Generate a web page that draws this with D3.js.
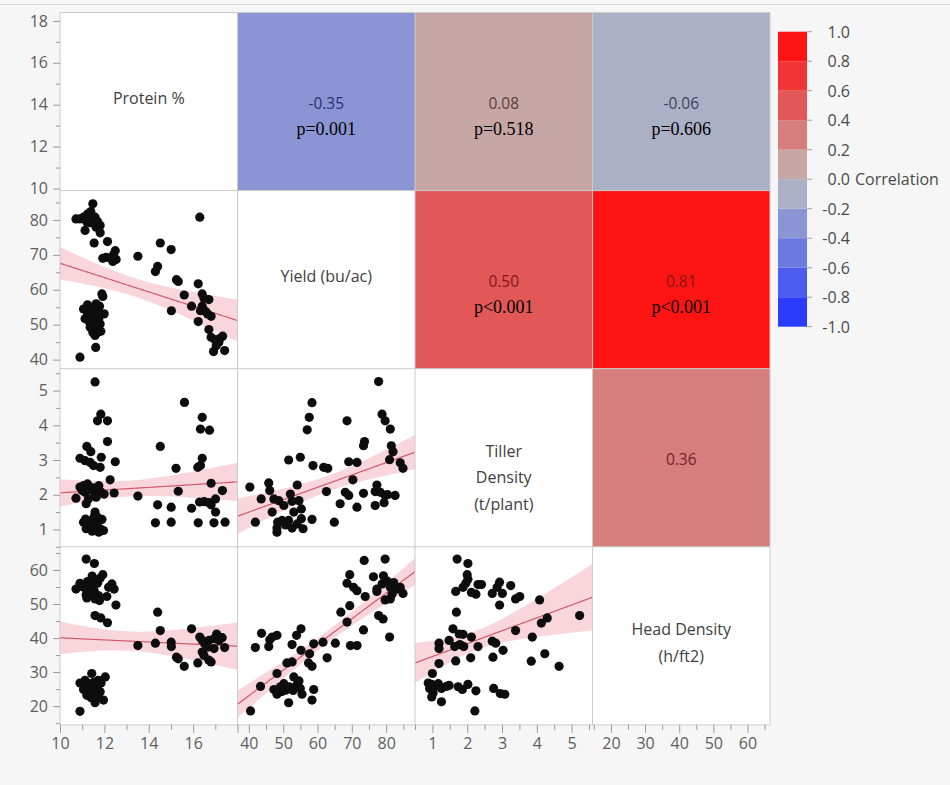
<!DOCTYPE html>
<html>
<head>
<meta charset="utf-8">
<script src="https://cdn.jsdelivr.net/npm/d3@7/dist/d3.min.js"></script>
<style>
  body { margin: 0; background: #f6f6f6; }
  svg { display: block; font-family: "Open Sans", "Noto Sans", sans-serif; }
</style>
</head>
<body>
<svg id="chart" width="950" height="785"></svg>
<script>
// ---- variables of the scatterplot matrix ----
const labelLines = [["Protein %"], ["Yield (bu/ac)"], ["Tiller", "Density", "(t/plant)"], ["Head Density", "(h/ft2)"]];
const xDomains = [[10, 18], [36.7, 88.4], [0.5, 5.6], [14.6, 66.6]];
const yDomains = [[9.9, 18.4], [37.4, 88.4], [0.5, 5.63], [14.5, 66.8]];
const minorTicks = [[11, 13, 15, 17], [45, 55, 65, 75, 85], [0.5, 1.5, 2.5, 3.5, 4.5, 5.5], [15, 25, 35, 45, 55, 65]];
const yTickLabels = [[10, 12, 14, 16, 18], [40, 50, 60, 70, 80], [1, 2, 3, 4, 5], [20, 30, 40, 50, 60]];
const xTickLabels = [[10, 12, 14, 16, 18], [40, 50, 60, 70, 80], [1, 2, 3, 4, 5], [20, 30, 40, 50, 60]];

// ---- pairwise correlations (upper triangle) ----
const corrPairs = [[0, 1], [0, 2], [0, 3], [1, 2], [1, 3], [2, 3]];
const corrR = [-0.35, 0.08, -0.06, 0.50, 0.81, 0.36];
const corrP = ["p=0.001", "p=0.518", "p=0.606", "p<0.001", "p<0.001", ""];

// ---- colour bands of the correlation legend, from -1 to 1 ----
const bandColors = ["#2b3cff", "#4c5cf0", "#6c79e1", "#8c95d4", "#abb0c6",
                    "#c7a6a6", "#d67e7e", "#e25858", "#ef3535", "#ff1414"];
const legendTicks = [1.0, 0.8, 0.6, 0.4, 0.2, 0.0, -0.2, -0.4, -0.6, -0.8, -1.0];

// ---- observations for each lower-triangle panel: [x, y] ----
const proteinYield = [
  [10.72,80.3],[10.90,80.3],[11.06,80.8],[11.24,81.7],[11.39,82.4],[11.48,84.6],[11.58,80.8],[11.70,79.5],
  [11.81,78.4],[11.21,79.4],[11.36,79.2],[11.13,77.0],[11.63,77.9],[11.81,76.3],[11.54,73.4],[12.14,73.8],
  [12.49,71.2],[12.41,70.0],[12.29,69.0],[12.08,69.3],[11.93,69.0],[12.38,68.1],[12.53,68.7],[11.30,80.9],
  [11.89,58.8],[11.93,58.1],[11.06,54.5],[11.24,55.7],[11.43,55.0],[11.63,56.0],[11.78,55.3],[11.99,53.1],
  [11.24,53.1],[11.39,52.1],[11.55,53.1],[11.73,53.8],[11.13,51.7],[11.33,50.7],[11.54,51.2],[11.75,51.7],
  [11.36,49.3],[11.58,49.7],[11.81,50.2],[11.48,47.8],[11.69,47.8],[11.84,48.1],[11.58,46.9],[11.61,43.5],
  [10.90,40.7],
  [13.51,69.6],[14.52,73.4],[15.01,71.5],[14.40,66.7],[14.30,65.2],[15.25,62.9],[15.33,62.4],[15.02,54.0],
  [15.60,58.5],[15.93,55.3],[16.30,80.8],[16.23,61.7],[16.41,58.8],[16.49,57.6],[16.71,57.2],[16.41,55.3],
  [16.33,54.0],[16.56,53.8],[16.65,53.1],[16.81,52.4],[16.23,50.9],[16.71,48.6],[16.81,46.4],[16.98,45.7],
  [17.21,46.1],[17.33,46.7],[16.92,42.3],[17.04,44.0],[17.42,42.6],[17.16,45.0]
];
const proteinTiller = [
  [11.58,5.25],[11.84,4.32],[11.69,4.13],[12.14,4.13],[12.14,3.53],[11.21,3.39],[11.39,3.24],[10.90,3.05],
  [11.13,2.98],[11.36,2.93],[11.51,2.84],[11.86,3.08],[11.81,2.79],[12.49,2.95],[12.26,2.43],[10.72,1.90],
  [10.90,2.22],[11.06,2.26],[11.24,2.31],[11.39,2.15],[11.13,2.07],[11.54,2.07],[11.75,2.26],[11.81,2.09],
  [11.63,1.93],[11.99,2.02],[12.44,2.05],[11.28,1.88],[11.18,1.74],[11.58,1.50],[11.69,1.35],[11.06,1.21],
  [11.24,1.23],[11.43,1.26],[11.63,1.16],[11.89,1.29],[11.18,1.02],[11.39,1.04],[11.58,1.00],[11.81,1.02],
  [11.96,0.97],[11.75,0.92],[11.00,2.12],[11.50,2.20],[11.30,1.10],[11.50,1.12],[11.70,1.08],[11.45,0.95],
  [11.15,1.30],[11.55,1.38],
  [13.51,1.96],[14.52,3.39],[15.61,4.66],[16.41,4.23],[16.33,3.89],[16.74,3.86],[16.41,3.05],[16.33,2.84],
  [16.21,2.79],[15.23,2.76],[15.33,2.10],[16.81,2.33],[14.40,1.71],[15.01,1.64],[15.93,1.61],[16.29,1.79],
  [16.50,1.80],[16.71,1.77],[16.81,1.71],[17.01,1.88],[17.01,1.50],[17.32,2.12],[14.30,1.19],[15.01,1.21],
  [16.23,1.19],[16.94,1.19],[17.44,1.21]
];
const proteinHead = [
  [11.18,63.2],[11.55,61.9],[10.72,54.4],[10.90,56.1],[11.06,54.9],[11.18,52.7],[11.24,56.6],[11.36,55.1],
  [11.45,58.2],[11.55,57.0],[11.69,56.1],[11.81,57.6],[11.93,58.6],[11.33,53.4],[11.54,53.9],[11.73,52.5],
  [11.78,51.0],[11.58,51.5],[11.21,51.8],[12.11,52.2],[12.34,55.9],[12.44,54.4],[12.52,49.7],[12.19,54.9],
  [11.58,46.6],[11.84,45.9],[12.14,44.5],
  [11.43,29.6],[10.90,26.8],[11.13,27.6],[11.33,26.6],[11.54,27.1],[11.73,27.6],[12.04,28.6],[11.06,24.9],
  [11.24,24.2],[11.43,25.2],[11.66,25.7],[11.81,24.2],[11.21,23.2],[11.51,23.7],[11.73,22.7],[11.58,21.0],
  [11.96,21.8],[10.90,18.5],[11.30,25.5],[11.45,24.0],[11.60,26.0],[11.70,24.8],[11.40,22.5],[11.85,26.8],
  [11.20,25.9],[11.62,23.0],
  [13.51,37.8],[14.40,47.6],[14.52,42.2],[14.30,38.5],[15.01,38.8],[15.02,37.5],[15.25,34.4],[15.33,33.9],
  [15.60,31.7],[15.93,42.7],[16.21,32.7],[16.30,40.3],[16.41,39.3],[16.52,38.3],[16.41,35.9],[16.49,34.9],
  [16.71,33.5],[16.81,33.0],[16.71,39.3],[16.94,39.8],[17.06,41.2],[17.16,39.3],[17.31,40.1],[17.42,37.2],
  [16.94,36.9],[16.64,37.3]
];
const yieldTiller = [
  [77.8,5.26],[58.4,4.65],[57.6,4.23],[57.0,3.87],[68.6,4.13],[78.8,4.32],[79.7,4.13],[81.2,3.89],
  [73.7,3.53],[73.4,3.41],[81.5,3.41],[82.0,3.24],[81.0,3.01],[84.1,2.92],[84.9,2.76],[51.6,3.00],
  [55.0,3.08],[58.7,2.84],[61.8,2.79],[63.0,2.76],[69.1,2.95],[71.5,2.93],[70.3,2.43],[62.6,2.09],
  [68.1,2.07],[69.1,1.98],[73.4,2.04],[76.8,2.09],[77.3,2.28],[78.3,2.07],[79.7,1.98],[82.6,1.98],
  [79.4,1.77],[76.8,1.69],[71.5,1.64],[66.6,1.74],[64.9,1.21],[40.3,2.22],[43.6,1.88],[41.9,1.21],
  [45.8,2.34],[46.1,2.12],[47.3,1.88],[48.7,1.83],[46.8,1.50],[50.2,1.69],[52.1,2.02],[52.6,1.81],
  [54.1,2.28],[54.6,1.83],[55.3,1.59],[48.2,1.04],[48.4,1.21],[49.7,1.26],[50.7,1.13],[51.6,1.26],
  [52.6,1.04],[54.1,1.16],[55.3,1.31],[55.8,1.02],[58.4,1.29],[53.1,1.50],[48.2,0.92],[80.4,2.00]
];
const yieldHead = [
  [40.5,18.6],[43.4,25.8],[41.9,37.2],[43.7,41.4],[46.1,39.5],[46.8,40.3],[48.2,40.8],[45.8,37.5],
  [47.3,24.9],[48.2,29.6],[48.2,23.5],[49.2,25.7],[50.2,26.6],[50.7,24.7],[51.6,21.0],[51.8,25.7],
  [51.1,32.7],[52.6,33.0],[53.1,28.6],[54.1,26.4],[55.0,25.2],[55.5,23.5],[58.4,21.8],[58.9,24.9],
  [52.6,38.1],[53.9,40.8],[55.2,42.7],[55.2,36.4],[57.7,35.4],[58.4,31.7],[57.4,32.7],[58.9,38.3],
  [61.6,38.8],[62.8,34.2],[65.2,38.5],[66.8,47.6],[68.6,44.7],[69.4,49.5],[68.6,56.1],[69.4,58.6],
  [70.5,54.9],[71.5,53.9],[69.6,37.8],[71.5,37.8],[73.4,42.4],[73.9,52.2],[73.6,62.8],[76.3,58.0],
  [77.3,53.7],[77.8,46.6],[79.1,45.6],[79.2,58.3],[79.7,63.2],[78.8,55.9],[80.2,56.8],[81.2,54.9],
  [82.2,56.3],[83.1,54.4],[84.1,54.9],[84.9,53.1],[79.7,51.2],[81.2,51.5],[81.0,40.3],[81.7,52.9],
  [77.3,54.4],[49.6,24.3],[52.9,24.6],[54.6,27.4]
];
const tillerHead = [
  [1.71,63.2],[2.02,61.9],[2.00,58.6],[2.02,57.3],[1.96,56.1],[1.88,54.9],[1.67,53.7],[2.12,53.4],
  [2.25,52.9],[2.31,55.7],[2.41,55.7],[2.72,53.1],[2.86,54.9],[2.93,56.4],[3.01,53.1],[3.25,55.4],
  [3.39,51.5],[3.51,52.2],[2.93,49.7],[4.08,51.2],[1.69,47.6],[1.59,42.7],[1.77,41.2],[1.88,41.1],
  [1.48,39.3],[1.64,37.5],[1.79,38.1],[1.90,37.5],[2.12,40.3],[2.31,37.5],[1.19,38.5],[1.19,36.9],
  [1.19,32.5],[1.67,33.3],[2.10,34.2],[2.72,39.1],[2.82,38.5],[2.74,34.4],[3.03,36.4],[3.39,42.2],
  [3.87,40.3],[4.13,44.4],[4.30,45.9],[3.84,33.2],[4.23,35.4],[4.64,31.7],[5.23,46.6],
  [1.00,29.6],[0.88,26.8],[0.98,26.4],[1.07,25.7],[0.92,25.2],[1.02,23.9],[1.17,26.6],[1.26,25.2],
  [1.40,25.8],[1.48,26.1],[0.98,22.7],[1.26,21.3],[1.74,25.7],[1.86,24.9],[2.02,26.4],[2.25,24.5],
  [2.22,18.6],[2.76,25.2],[2.95,23.7],[3.08,23.5]
];
const panels = [
  { row: 1, col: 0, points: proteinYield },
  { row: 2, col: 0, points: proteinTiller },
  { row: 3, col: 0, points: proteinHead },
  { row: 2, col: 1, points: yieldTiller },
  { row: 3, col: 1, points: yieldHead },
  { row: 3, col: 2, points: tillerHead }
];

// ---- layout ----
const svg = d3.select("#chart");
const gridLeft = 60, gridTop = 12.5, cellW = 177.5, cellH = 178.1;
const cellX = i => gridLeft + i * cellW;
const cellY = j => gridTop + j * cellH;
const nVar = labelLines.length;

const xScale = xDomains.map((d, i) => d3.scaleLinear().domain(d).range([cellX(i), cellX(i) + cellW]));
const yScale = yDomains.map((d, j) => d3.scaleLinear().domain(d).range([cellY(j) + cellH, cellY(j)]));
const corrColor = d3.scaleQuantize().domain([-1, 1]).range(bandColors);

// deep, muted shade of a cell colour, used for the coefficient written on it
function deepShade(c) {
  const h = d3.hsl(c);
  h.l = 0.3;
  h.s = Math.min(0.7, h.s);
  return h.formatHex();
}

// faint rule along the top of the window
svg.append("line").attr("x1", 0).attr("x2", 950).attr("y1", 4.5).attr("y2", 4.5)
  .attr("stroke", "#d9d9d9").attr("stroke-width", 1);

const defs = svg.append("defs");
for (let j = 0; j < nVar; j++) {
  for (let i = 0; i < nVar; i++) {
    defs.append("clipPath").attr("id", `clip-${j}-${i}`)
      .append("rect").attr("x", cellX(i)).attr("y", cellY(j)).attr("width", cellW).attr("height", cellH);
  }
}

// cell backgrounds
const cells = svg.append("g");
for (let j = 0; j < nVar; j++) {
  for (let i = 0; i < nVar; i++) {
    cells.append("rect").attr("x", cellX(i)).attr("y", cellY(j))
      .attr("width", cellW).attr("height", cellH).attr("fill", "#ffffff");
  }
}

// correlation cells
corrPairs.forEach(([r, c], k) => {
  const fill = corrColor(corrR[k]);
  const cx = cellX(c) + cellW / 2, cy = cellY(r) + cellH / 2;
  cells.append("rect").attr("x", cellX(c)).attr("y", cellY(r))
    .attr("width", cellW).attr("height", cellH).attr("fill", fill);
  cells.append("text").attr("x", cx).attr("y", cy + 1)
    .attr("text-anchor", "middle").attr("dominant-baseline", "central")
    .attr("font-size", 15.5).attr("fill", deepShade(fill))
    .text(d3.format(".2f")(corrR[k]).replace("−", "-"));
  if (corrP[k]) {
    cells.append("text").attr("x", cx).attr("y", cy + 27)
      .attr("text-anchor", "middle").attr("dominant-baseline", "central")
      .attr("font-family", "'Liberation Serif', 'Times New Roman', serif")
      .attr("font-size", 18).attr("fill", "#000")
      .text(corrP[k]);
  }
});

// variable names on the diagonal
labelLines.forEach((lines, i) => {
  const cx = cellX(i) + cellW / 2, cy = cellY(i) + cellH / 2;
  const y0 = lines.length === 1 ? cy - 4 : cy - 7;
  lines.forEach((t, k) => {
    cells.append("text").attr("x", cx).attr("y", y0 + k * 26.7)
      .attr("text-anchor", "middle").attr("dominant-baseline", "central")
      .attr("font-size", 16).attr("fill", "#404040").text(t);
  });
});

// scatter panels with least-squares fit and 95% confidence band for the mean
panels.forEach(p => {
  const xs = xScale[p.col], ys = yScale[p.row];
  const g = svg.append("g").attr("clip-path", `url(#clip-${p.row}-${p.col})`);
  const pts = p.points, n = pts.length;
  const mx = d3.mean(pts, d => d[0]), my = d3.mean(pts, d => d[1]);
  const sxx = d3.sum(pts, d => (d[0] - mx) ** 2);
  const sxy = d3.sum(pts, d => (d[0] - mx) * (d[1] - my));
  const b = sxy / sxx, a = my - b * mx;
  const s2 = d3.sum(pts, d => (d[1] - a - b * d[0]) ** 2) / (n - 2);
  const t = 1.99;
  const dom = xs.domain();
  const steps = d3.range(0, 101).map(k => dom[0] + (dom[1] - dom[0]) * k / 100);
  const band = steps.map(x => {
    const fit = a + b * x;
    const se = Math.sqrt(s2 * (1 / n + (x - mx) ** 2 / sxx));
    return { x, lo: fit - t * se, hi: fit + t * se, fit };
  });
  g.append("path").datum(band)
    .attr("d", d3.area().x(d => xs(d.x)).y0(d => ys(d.lo)).y1(d => ys(d.hi)))
    .attr("fill", "rgba(232,120,140,0.30)");
  g.append("path").datum(band)
    .attr("d", d3.line().x(d => xs(d.x)).y(d => ys(d.fit)))
    .attr("fill", "none").attr("stroke", "#d25a68").attr("stroke-width", 1.2);
  g.selectAll("circle").data(pts).join("circle")
    .attr("cx", d => xs(d[0])).attr("cy", d => ys(d[1])).attr("r", 4.6)
    .attr("fill", "#0d0d0d");
});

// cell grid lines
const gridLines = svg.append("g").attr("stroke", "#cbcbcb").attr("stroke-width", 1).attr("fill", "none");
for (let k = 0; k <= nVar; k++) {
  gridLines.append("line").attr("x1", cellX(k)).attr("x2", cellX(k)).attr("y1", cellY(0)).attr("y2", cellY(nVar));
  gridLines.append("line").attr("x1", cellX(0)).attr("x2", cellX(nVar)).attr("y1", cellY(k)).attr("y2", cellY(k));
}

// axes: left side for each row, bottom for each column
function styleAxis(g) {
  g.select(".domain").remove();
  g.selectAll(".tick line").attr("stroke", "#9a9a9a");
  g.selectAll(".tick text").attr("fill", "#5e5e5e").attr("font-size", 16)
    .attr("font-family", "'Open Sans', 'Noto Sans', sans-serif");
}
for (let j = 0; j < nVar; j++) {
  svg.append("g").attr("transform", `translate(${gridLeft},0)`)
    .call(d3.axisLeft(yScale[j]).tickValues(minorTicks[j]).tickSize(4).tickFormat(""))
    .call(styleAxis);
  svg.append("g").attr("transform", `translate(${gridLeft},0)`)
    .call(d3.axisLeft(yScale[j]).tickValues(yTickLabels[j]).tickSize(7).tickPadding(5).tickFormat(d3.format("d")))
    .call(styleAxis);
}
const axisBottomY = cellY(nVar);
for (let i = 0; i < nVar; i++) {
  // the last major tick of the first column sits on the shared cell edge and carries no label
  const fmt = v => (i === 0 && v === 18) ? "" : d3.format("d")(v);
  svg.append("g").attr("transform", `translate(0,${axisBottomY})`)
    .call(d3.axisBottom(xScale[i]).tickValues(minorTicks[i]).tickSize(5).tickFormat(""))
    .call(styleAxis);
  svg.append("g").attr("transform", `translate(0,${axisBottomY})`)
    .call(d3.axisBottom(xScale[i]).tickValues(xTickLabels[i]).tickSize(8).tickPadding(5).tickFormat(fmt))
    .call(styleAxis);
}

// correlation legend
const legTop = 31.7, legBottom = 326.7, legX = 778, legW = 29;
const legScale = d3.scaleLinear().domain([-1, 1]).range([legBottom, legTop]);
const leg = svg.append("g");
bandColors.forEach((c, k) => {
  const lo = -1 + k * 0.2, hi = lo + 0.2;
  leg.append("rect").attr("x", legX).attr("y", legScale(hi))
    .attr("width", legW).attr("height", legScale(lo) - legScale(hi)).attr("fill", c);
});
legendTicks.forEach(v => {
  const y = legScale(v);
  leg.append("line").attr("x1", legX + legW).attr("x2", legX + legW + 5)
    .attr("y1", y).attr("y2", y).attr("stroke", "#a0a0a0");
  leg.append("text").attr("x", 850).attr("y", y)
    .attr("text-anchor", "end").attr("dominant-baseline", "central")
    .attr("font-size", 16).attr("fill", "#4a4a4a").text(d3.format(".1f")(v).replace("−", "-"));
});
leg.append("text").attr("x", 855).attr("y", legScale(0))
  .attr("dominant-baseline", "central").attr("font-size", 16).attr("fill", "#4a4a4a")
  .text("Correlation");
</script>
</body>
</html>
